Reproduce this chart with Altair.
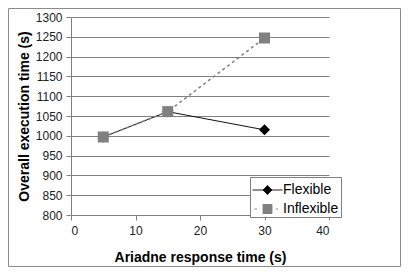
import altair as alt
import pandas as pd

x_vals = [5, 15, 30]
flexible = [997, 1061, 1015]
inflexible = [997, 1061, 1247]
series_names = ["Flexible", "Inflexible"]
x_ticks = [0, 10, 20, 30, 40]
y_ticks = [800, 850, 900, 950, 1000, 1050, 1100, 1150, 1200, 1250, 1300]

rows = []
for name, vals in zip(series_names, [flexible, inflexible]):
    for xv, yv in zip(x_vals, vals):
        rows.append({"series": name, "x": xv, "y": yv})
df = pd.DataFrame(rows)

FONT = "Liberation Sans"
W, H = 258, 198
BLACK, GRAY = "#000000", "#808080"

flex_path = "M-1,0H1M0,-0.3L0.3,0L0,0.3L-0.3,0Z"
infl_path = ("M-0.87,0H-0.7M0.55,0H0.7"
             "M-0.3,-0.3H0.3V0.3H-0.3Z")

x_enc = alt.X("x:Q", scale=alt.Scale(domain=[0, 40]),
              axis=alt.Axis(values=x_ticks, format="d", title="Ariadne response time (s)",
                            grid=False, tickSize=5, labelPadding=5,
                            titlePadding=14))
y_enc = alt.Y("y:Q", scale=alt.Scale(domain=[800, 1300]),
              axis=alt.Axis(values=y_ticks, format="d", title="Overall execution time (s)",
                            grid=True, tickSize=5, labelPadding=4,
                            titlePadding=4))


def leg(path, col, ly):
    return alt.Legend(
        title=None, orient="none", legendX=181, legendY=ly,
        symbolType=path, symbolSize=900, symbolStrokeWidth=1,
        symbolFillColor=col, symbolStrokeColor=col, symbolOpacity=1,
        symbolDash=[1, 0],
        labelFontSize=14, labelFont=FONT, labelColor=BLACK,
        padding=0, labelOffset=0,
    )


def series_df(name):
    return df[df["series"] == name]


legend_box = alt.Chart(alt.Data(values=[{"a": 1}])).mark_rect(
    fill="white", stroke=GRAY, strokeWidth=1
).encode(
    x=alt.value(179.5), x2=alt.value(270.5), y=alt.value(160.5), y2=alt.value(200.5)
)

line_flex = alt.Chart(series_df("Flexible")).mark_line(
    color="#111111", strokeWidth=1
).encode(
    x=x_enc, y=y_enc,
    opacity=alt.Opacity("series:N", scale=alt.Scale(range=[1, 1]), legend=leg(flex_path, BLACK, 157.5)),
)

line_infl = alt.Chart(series_df("Inflexible")).mark_line(
    color=GRAY, strokeWidth=1.5, strokeDash=[3, 3]
).encode(
    x=x_enc, y=y_enc,
    opacity=alt.Opacity("series:N", scale=alt.Scale(range=[1, 1]), legend=leg(infl_path, GRAY, 176.5)),
)

pts_flex = alt.Chart(series_df("Flexible")).mark_point(
    filled=True, shape="diamond", color=BLACK, size=121, opacity=1
).encode(x=x_enc, y=y_enc)

pts_infl = alt.Chart(series_df("Inflexible")).mark_point(
    filled=True, shape="square", color=GRAY, size=121, opacity=1
).encode(x=x_enc, y=y_enc)

border = alt.Chart(alt.Data(values=[{"a": 1}])).mark_rect(
    fill="transparent", stroke="#8c8c8c", strokeWidth=1
).encode(
    x=alt.value(-62.5), x2=alt.value(329.5), y=alt.value(-8.5), y2=alt.value(249.5)
)

chart = alt.layer(legend_box, line_flex, line_infl, pts_flex, pts_infl, border).resolve_scale(
    opacity="independent"
).resolve_legend(opacity="independent").properties(
    width=W, height=H,
    autosize=alt.AutoSizeParams(type="none"),
    padding={"left": 63, "top": 9, "right": 72, "bottom": 52},
).configure_view(stroke=None).configure_axis(
    labelFont=FONT, titleFont=FONT, labelFontSize=12, titleFontSize=14,
    titleFontWeight="bold", labelColor="#222222", titleColor="#000000",
    domainColor=GRAY, tickColor=GRAY, gridColor=GRAY,
    gridOpacity=1, domainWidth=1, tickWidth=1, gridWidth=1,
)

chart.save("out.html", embed_options={"renderer": "svg", "actions": False})
